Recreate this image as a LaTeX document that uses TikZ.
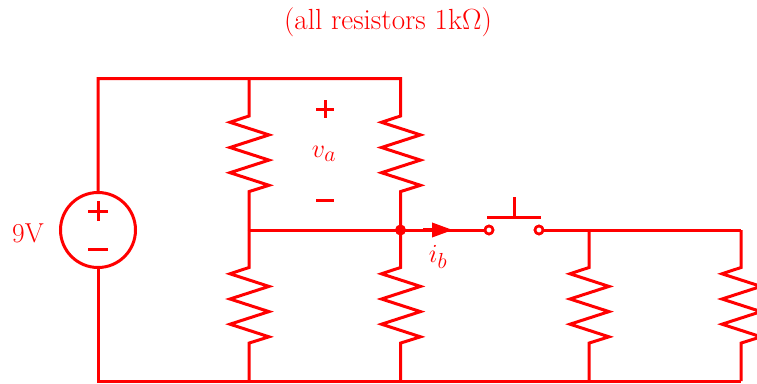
\documentclass[tikz,border=0pt]{standalone}
\usetikzlibrary{arrows.meta}
\tikzset{
  x=1pt,y=-1pt,
  wire/.style={draw=red,line width=3pt,line join=miter},
  txt/.style={text=red,font=\Huge,inner sep=0pt},
  sym/.style={draw=red,line width=3pt},
  resupper/.style={to path={-- ++(0,37.5) -- ++(-19,6.3) -- ++(39,12.6) -- ++(-39,12.6) -- ++(39,12.6) -- ++(-39,12.6) -- ++(39,12.6) -- ++(-20,6.3) -- (\tikztotarget)}},
  term/.style={circle,draw=red,fill=white,line width=2.6pt,minimum size=8pt,inner sep=0pt},
}
\begin{document}
\begin{tikzpicture}
\useasboundingbox (0,0) rectangle (757,383);
\coordinate (tl) at (98,78.5);
\coordinate (a1) at (249,78.5);
\coordinate (a2) at (400.5,78.5);
\coordinate (m1) at (249,230);
\coordinate (m2) at (400.5,230);
\coordinate (m3) at (589,230);
\coordinate (m4) at (741,230);
\coordinate (bl) at (98,381);
\coordinate (b1) at (249,381);
\coordinate (b2) at (400.5,381);
\coordinate (b3) at (589,381);
\coordinate (b4) at (741,381);
\node[circle,draw=red,line width=3pt,minimum size=75pt,inner sep=0pt] (src) at (98,230) {};
\node[term] (s1) at (489,230) {};
\node[term] (s2) at (539,230) {};
\coordinate (barl) at (487,217);
\coordinate (barr) at (541,217);
\coordinate (barm) at (514,217);
\coordinate (bart) at (514,197);
\coordinate (arA) at (423,230);
\coordinate (arB) at (453,230);
\draw[wire] (src.north) -- (tl) -- (a2) to[resupper] (m2);
\draw[wire] (a1) to[resupper] (m1);
\draw[wire] (src.south) -- (bl) -- (b4);
\draw[wire] (m1) -- (s1);
\draw[wire] (m1) to[resupper] (b1);
\draw[wire] (m2) to[resupper] (b2);
\draw[wire] (m3) to[resupper] (b3);
\draw[wire] (m4) to[resupper] (b4);
\draw[wire] (s2) -- (m4);
\draw[wire] (barl) -- (barr);
\draw[wire] (barm) -- (bart);
\draw[red,line width=3.5pt,-{Triangle[length=21pt,width=14pt]}] (arA) -- (arB);
\node[term] at (s1) {};
\node[term] at (s2) {};
\node[circle,fill=red,minimum size=11pt,inner sep=0pt] (dot) at (m2) {};
\coordinate (p1) at (88,211); \coordinate (p2) at (108,211);
\coordinate (p3) at (98,201); \coordinate (p4) at (98,221);
\draw[sym] (p1) -- (p2); \draw[sym] (p3) -- (p4);
\coordinate (q1) at (88,249); \coordinate (q2) at (108,249);
\draw[sym] (q1) -- (q2);
\coordinate (u1) at (316,109); \coordinate (u2) at (334,109);
\coordinate (u3) at (325,100); \coordinate (u4) at (325,118);
\draw[sym] (u1) -- (u2); \draw[sym] (u3) -- (u4);
\coordinate (w1) at (316,200); \coordinate (w2) at (334,200);
\draw[sym] (w1) -- (w2);
\node[txt,scale=1.17,transform shape] (title) at (388,22) {(all resistors 1k$\Omega$)};
\node[txt,scale=1.1,transform shape] (nv) at (28,233) {9V};
\node[txt,scale=1.05,transform shape] (va) at (324,154) {$v_a$};
\node[txt,scale=1.05,transform shape] (ib) at (438,257) {$i_b$};
\end{tikzpicture}
\end{document}
